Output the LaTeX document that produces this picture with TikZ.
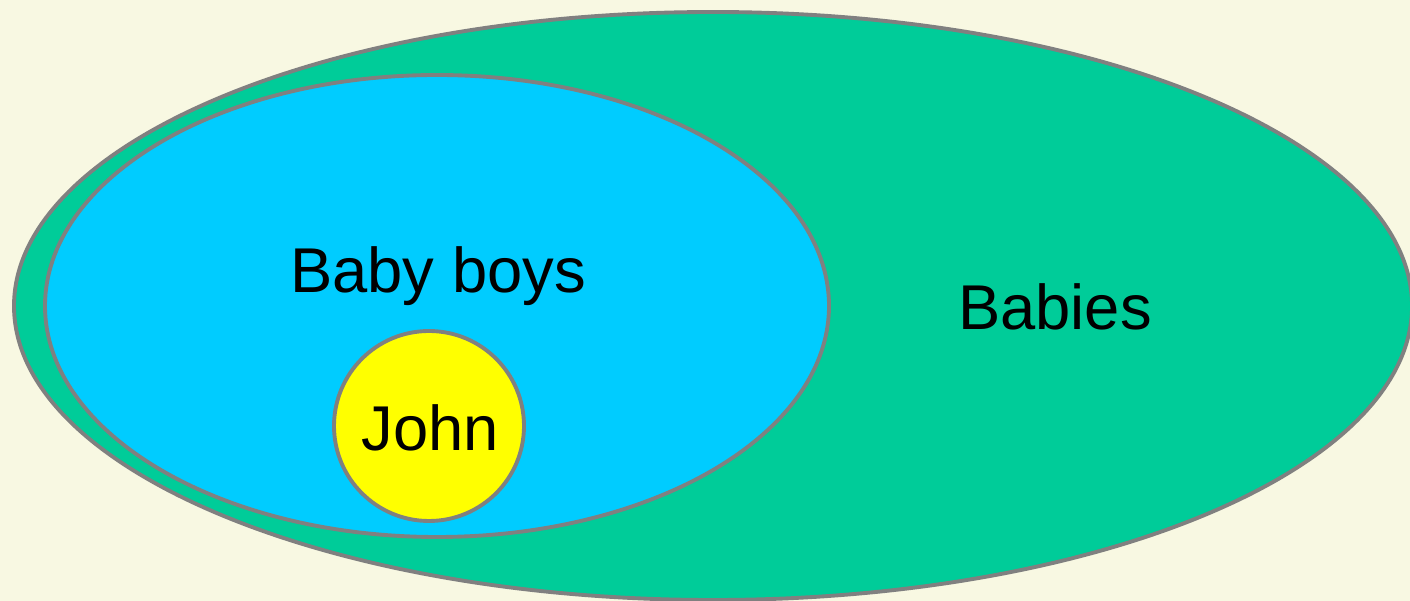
\documentclass[tikz,border=0pt]{standalone}
\usepackage{fontspec}
\setmainfont{Liberation Sans}
\definecolor{bg}{HTML}{F8F8E2}
\definecolor{outerg}{HTML}{00CC99}
\definecolor{innerb}{HTML}{00CCFF}
\definecolor{johny}{HTML}{FFFF00}
\definecolor{edge}{HTML}{808080}
\tikzset{
  setshape/.style={draw=edge, line width=1.1pt},
  lbl/.style={font=\fontsize{18}{20}\selectfont, text=black, anchor=base, inner sep=0pt}
}
\begin{document}
\begin{tikzpicture}[x=0.01cm,y=-0.01cm]
\fill[bg] (0,0) rectangle (1410,601);
\useasboundingbox (0,0) rectangle (1410,601);
\begin{scope}
\clip (0,0) rectangle (1410,601);
\path[setshape, fill=outerg] (713,306) ellipse [x radius=699, y radius=294];
\path[setshape, fill=innerb] (437,306) ellipse [x radius=392, y radius=231];
\path[setshape, fill=johny] (429,426) circle [radius=95];
\end{scope}
\node[lbl] (boys) at (438,293) {Baby boys};
\node[lbl] (babies) at (1055,330) {Babies};
\node[lbl] (john) at (430,451) {John};
\end{tikzpicture}
\end{document}
